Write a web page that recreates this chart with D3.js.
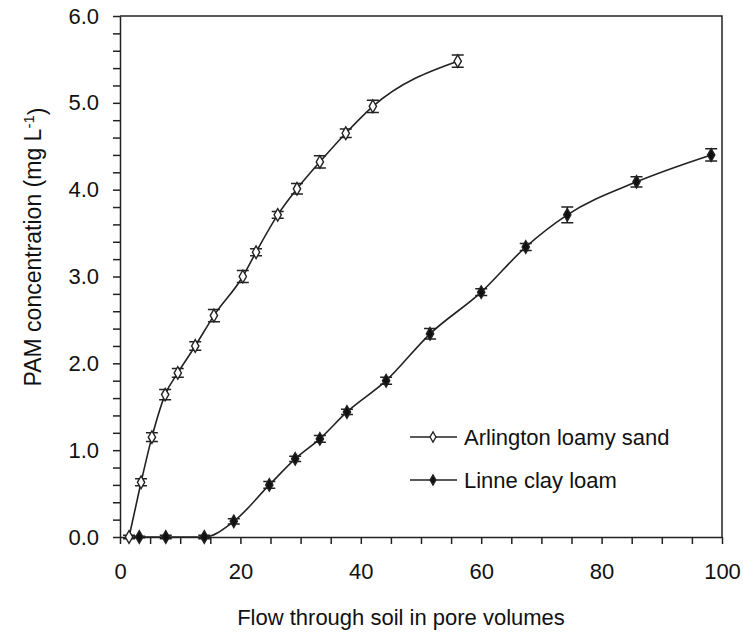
<!DOCTYPE html>
<meta charset="utf-8">
<style>
body { margin: 0; background: #fff; }
text { font-family: "Liberation Sans", Arial, sans-serif; fill: #111; }
.domain, .tick line { stroke: #222; stroke-width: 1.5px; }
.curve { fill: none; stroke: #222; stroke-width: 1.6px; }
</style>
<body>
<script src="https://d3js.org/d3.v7.min.js"></script>
<script>

// Arlington loamy sand (open diamonds)
var arlX   = [1.5, 3.5, 5.3, 7.5, 9.6, 12.5, 15.6, 20.4, 22.6, 26.2, 29.4, 33.2, 37.5, 42.0, 56.1];
var arlY   = [0.00, 0.63, 1.15, 1.64, 1.89, 2.20, 2.55, 3.00, 3.28, 3.71, 4.01, 4.32, 4.65, 4.96, 5.48];
var arlErr = [0.02, 0.04, 0.05, 0.06, 0.05, 0.05, 0.07, 0.07, 0.04, 0.04, 0.06, 0.07, 0.05, 0.07, 0.07];

// Linne clay loam (filled diamonds)
var linX   = [3.2, 7.6, 14.0, 18.9, 24.8, 29.1, 33.2, 37.7, 44.2, 51.5, 60.0, 67.4, 74.3, 85.8, 98.2];
var linY   = [0.00, 0.00, 0.00, 0.18, 0.60, 0.90, 1.13, 1.44, 1.80, 2.34, 2.82, 3.34, 3.71, 4.09, 4.40];
var linErr = [0.01, 0.02, 0.02, 0.03, 0.04, 0.03, 0.04, 0.03, 0.04, 0.06, 0.04, 0.04, 0.09, 0.06, 0.07];

var xTicks = [0, 20, 40, 60, 80, 100];
var yTicks = [0, 1, 2, 3, 4, 5, 6];

var margin = {top: 16, right: 21, bottom: 97, left: 120},
    width = 743 - margin.left - margin.right,
    height = 634 - margin.top - margin.bottom;

var x = d3.scaleLinear().domain([0, 100]).range([0, width]);
var y = d3.scaleLinear().domain([0, 6]).range([height, 0]);

var svg = d3.select("body").append("svg")
    .attr("width", 743)
    .attr("height", 634)
  .append("g")
    .attr("transform", "translate(" + margin.left + "," + margin.top + ")");

// frame (top and right)
svg.append("path")
    .attr("d", "M0,0H" + width + "V" + height)
    .attr("fill", "none")
    .attr("stroke", "#222")
    .attr("stroke-width", 1.5);

// x axis: minor ticks every 5, labels every 20
var xAxis = svg.append("g")
    .attr("transform", "translate(0," + height + ")")
    .call(d3.axisBottom(x)
      .tickValues(d3.range(0, 101, 5))
      .tickSize(7)
      .tickSizeOuter(0)
      .tickFormat(function(d) { return xTicks.indexOf(d) >= 0 ? d : ""; }));
xAxis.selectAll("text").attr("dy", "1.45em").style("font-size", "22px");

// y axis: minor ticks every 0.2, labels every 1.0
var yAxis = svg.append("g")
    .call(d3.axisLeft(y)
      .tickValues(d3.range(0, 31).map(function(i) { return i / 5; }))
      .tickSize(7)
      .tickSizeOuter(0)
      .tickFormat(function(d) {
        var r = Math.round(d * 5);
        return yTicks.indexOf(r / 5) >= 0 && r % 5 === 0 ? d3.format(".1f")(r / 5) : "";
      }));
yAxis.selectAll("text").attr("dx", "-0.5em").style("font-size", "22px");

var line = d3.line()
    .x(function(d) { return x(d[0]); })
    .y(function(d) { return y(d[1]); })
    .curve(d3.curveMonotoneX);

var diamond = d3.symbol().type(d3.symbolDiamond).size(46);

function draw(xs, ys, errs, fill) {
  var data = xs.map(function(v, i) { return [v, ys[i], errs[i]]; });

  svg.append("path")
      .datum(data)
      .attr("class", "curve")
      .attr("d", line);

  var g = svg.append("g").selectAll("g")
      .data(data)
    .enter().append("g")
      .attr("transform", function(d) { return "translate(" + x(d[0]) + "," + y(d[1]) + ")"; });

  // error bars
  g.append("path")
      .attr("d", function(d) {
        var t = y(d[1] + d[2]) - y(d[1]), b = y(d[1] - d[2]) - y(d[1]);
        return "M0," + t + "V" + b + "M-6," + t + "H6M-6," + b + "H6";
      })
      .attr("fill", "none")
      .attr("stroke", "#222")
      .attr("stroke-width", 1.5);

  g.append("path")
      .attr("d", diamond)
      .attr("fill", fill)
      .attr("stroke", "#222")
      .attr("stroke-width", 1.4);
}

draw(arlX, arlY, arlErr, "#fff");
draw(linX, linY, linErr, "#111");

// legend
var legend = [["Arlington loamy sand", "#fff"], ["Linne clay loam", "#111"]];
var lg = svg.selectAll(".legend")
    .data(legend)
  .enter().append("g")
    .attr("class", "legend")
    .attr("transform", function(d, i) { return "translate(290," + (421 + i * 43) + ")"; });

lg.append("line")
    .attr("x1", 0).attr("x2", 47)
    .attr("stroke", "#222").attr("stroke-width", 1.6);
lg.append("path")
    .attr("transform", "translate(23,0)")
    .attr("d", d3.symbol().type(d3.symbolDiamond).size(30))
    .attr("fill", function(d) { return d[1]; })
    .attr("stroke", "#222").attr("stroke-width", 1.3);
lg.append("text")
    .attr("x", 54)
    .attr("dy", "0.35em")
    .style("font-size", "22px")
    .text(function(d) { return d[0]; });

// axis titles
svg.append("text")
    .attr("x", 281)
    .attr("y", height + 80)
    .attr("dy", "0.35em")
    .attr("text-anchor", "middle")
    .style("font-size", "22px")
    .text("Flow through soil in pore volumes");

var yt = svg.append("text")
    .attr("transform", "translate(-79,231)rotate(-90)")
    .attr("text-anchor", "middle")
    .style("font-size", "23px");
yt.append("tspan").text("PAM concentration (mg L");
yt.append("tspan").attr("dy", "-0.5em").style("font-size", "15px").text("-1");
yt.append("tspan").attr("dy", "0.5em").text(")");

</script>
</body>
